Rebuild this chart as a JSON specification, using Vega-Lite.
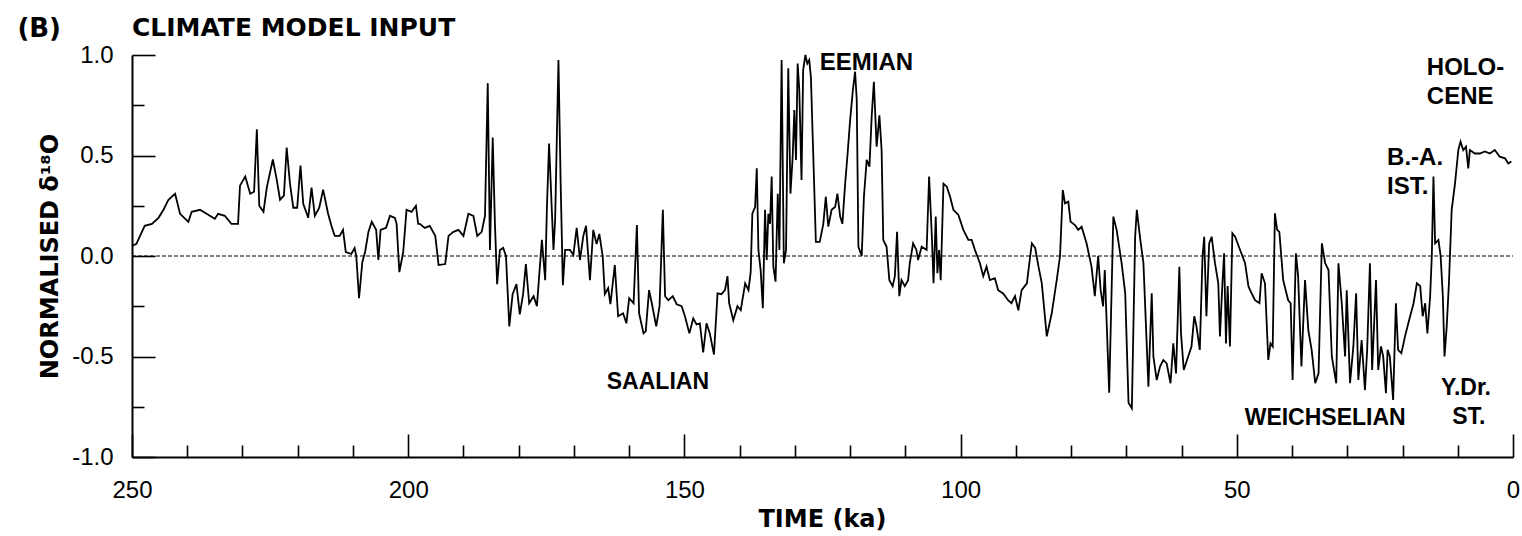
{
  "$schema": "https://vega.github.io/schema/vega-lite/v6.json",
  "width": 1381,
  "height": 402,
  "autosize": "none",
  "padding": {"left": 132, "top": 55, "right": 9, "bottom": 79},
  "background": "white",
  "config": {"view": {"stroke": null}},
  "title": {"text": "CLIMATE MODEL INPUT", "anchor": "start", "frame": "group", "font": "DejaVu Sans", "fontWeight": "bold", "fontSize": 25, "color": "black", "offset": -25},
  "datasets": {
    "series": [
      {"t":250.0,"v":0.05},{"t":249.2,"v":0.06},{"t":247.7,"v":0.15},{"t":246.4,"v":0.16},{"t":245.2,"v":0.19},{"t":244.3,"v":0.23},{"t":243.4,"v":0.28},{"t":242.2,"v":0.31},{"t":241.3,"v":0.21},{"t":239.8,"v":0.17},{"t":239.2,"v":0.22},{"t":237.7,"v":0.23},{"t":235.9,"v":0.20},{"t":235.0,"v":0.185},{"t":234.4,"v":0.21},{"t":233.2,"v":0.20},{"t":232.0,"v":0.16},{"t":230.8,"v":0.16},{"t":230.45,"v":0.35},{"t":229.5,"v":0.395},{"t":228.6,"v":0.31},{"t":227.9,"v":0.32},{"t":227.4,"v":0.63},{"t":226.96,"v":0.25},{"t":226.2,"v":0.22},{"t":225.6,"v":0.34},{"t":224.5,"v":0.48},{"t":223.8,"v":0.38},{"t":223.2,"v":0.28},{"t":222.5,"v":0.30},{"t":222.0,"v":0.54},{"t":221.4,"v":0.36},{"t":220.8,"v":0.24},{"t":220.1,"v":0.24},{"t":219.5,"v":0.45},{"t":219.0,"v":0.26},{"t":218.1,"v":0.19},{"t":217.5,"v":0.34},{"t":216.9,"v":0.20},{"t":216.1,"v":0.24},{"t":215.4,"v":0.33},{"t":214.5,"v":0.21},{"t":213.9,"v":0.15},{"t":213.3,"v":0.10},{"t":212.4,"v":0.10},{"t":211.8,"v":0.13},{"t":211.3,"v":0.02},{"t":210.3,"v":0.01},{"t":209.7,"v":0.04},{"t":209.4,"v":0.0},{"t":208.9,"v":-0.21},{"t":208.3,"v":-0.03},{"t":207.8,"v":0.02},{"t":207.2,"v":0.12},{"t":206.6,"v":0.17},{"t":205.8,"v":0.13},{"t":205.4,"v":-0.02},{"t":205.0,"v":0.13},{"t":204.0,"v":0.14},{"t":203.3,"v":0.20},{"t":202.4,"v":0.19},{"t":202.1,"v":0.16},{"t":201.6,"v":-0.08},{"t":200.9,"v":0.02},{"t":200.3,"v":0.23},{"t":199.4,"v":0.22},{"t":198.6,"v":0.25},{"t":198.2,"v":0.16},
      {"t":197.9,"v":0.16},{"t":197.0,"v":0.14},{"t":196.1,"v":0.15},{"t":195.1,"v":0.10},{"t":194.5,"v":-0.045},{"t":193.3,"v":-0.04},{"t":192.7,"v":0.10},{"t":191.8,"v":0.12},{"t":190.9,"v":0.13},{"t":190.0,"v":0.10},{"t":189.1,"v":0.21},{"t":188.2,"v":0.20},{"t":187.5,"v":0.10},{"t":186.7,"v":0.12},{"t":186.1,"v":0.20},{"t":185.6,"v":0.86},{"t":185.2,"v":0.03},{"t":184.7,"v":0.59},{"t":184.3,"v":0.16},{"t":183.9,"v":-0.14},{"t":183.4,"v":0.03},{"t":182.8,"v":0.04},{"t":182.3,"v":0.0},{"t":181.7,"v":-0.35},{"t":181.1,"v":-0.19},{"t":180.4,"v":-0.14},{"t":179.8,"v":-0.29},{"t":179.2,"v":-0.19},{"t":178.7,"v":-0.04},{"t":178.1,"v":-0.235},{"t":177.3,"v":-0.20},{"t":176.7,"v":-0.25},{"t":175.8,"v":0.08},{"t":175.2,"v":-0.12},{"t":174.9,"v":0.23},{"t":174.5,"v":0.56},{"t":173.7,"v":0.03},{"t":173.4,"v":0.18},{"t":172.8,"v":0.975},{"t":172.4,"v":0.36},{"t":172.0,"v":-0.145},{"t":171.6,"v":0.03},{"t":170.7,"v":0.03},{"t":170.1,"v":0.005},{"t":169.5,"v":0.14},{"t":168.9,"v":-0.02},{"t":168.3,"v":0.10},{"t":167.8,"v":0.15},{"t":167.1,"v":-0.12},{"t":166.5,"v":0.13},{"t":165.9,"v":0.06},{"t":165.4,"v":0.11},{"t":164.8,"v":0.0},{"t":164.4,"v":-0.19},{"t":163.8,"v":-0.16},{"t":163.4,"v":-0.24},{"t":162.6,"v":-0.045},{"t":162.0,"v":-0.30},{"t":161.1,"v":-0.285},{"t":160.5,"v":-0.335},{"t":160.0,"v":-0.21},{"t":159.2,"v":-0.235},{"t":158.6,"v":0.154},{"t":158.2,"v":-0.285},{"t":157.4,"v":-0.385},{"t":157.0,"v":-0.375},{"t":156.4,"v":-0.17},{"t":155.9,"v":-0.235},{"t":155.1,"v":-0.35},{"t":154.5,"v":-0.25},{"t":153.9,"v":0.23},{"t":153.5,"v":-0.20},{"t":152.9,"v":-0.22},{"t":152.1,"v":-0.20},{"t":151.4,"v":-0.24},{"t":150.5,"v":-0.25},{"t":149.9,"v":-0.30},{"t":149.1,"v":-0.385},{"t":148.4,"v":-0.31},{"t":147.8,"v":-0.34},
      {"t":147.2,"v":-0.335},{"t":146.6,"v":-0.48},{"t":146.0,"v":-0.335},{"t":145.4,"v":-0.385},{"t":144.65,"v":-0.49},{"t":144.0,"v":-0.186},{"t":143.3,"v":-0.19},{"t":142.65,"v":-0.17},{"t":142.2,"v":-0.10},{"t":141.9,"v":-0.235},{"t":141.15,"v":-0.32},{"t":140.4,"v":-0.25},{"t":139.8,"v":-0.27},{"t":139.0,"v":-0.136},{"t":138.4,"v":-0.17},{"t":138.0,"v":-0.08},{"t":137.7,"v":0.21},{"t":137.2,"v":0.245},{"t":136.9,"v":0.436},{"t":136.6,"v":0.03},{"t":136.2,"v":-0.07},{"t":135.8,"v":-0.26},{"t":135.4,"v":0.23},{"t":135.1,"v":-0.02},{"t":134.8,"v":0.21},{"t":134.5,"v":0.16},{"t":134.2,"v":0.395},{"t":133.9,"v":-0.053},{"t":133.5,"v":-0.128},{"t":133.1,"v":0.31},{"t":132.8,"v":0.03},{"t":132.4,"v":0.975},{"t":132.0,"v":-0.036},{"t":131.6,"v":0.03},{"t":131.2,"v":0.934},{"t":130.8,"v":0.31},{"t":130.4,"v":0.494},{"t":130.1,"v":0.726},{"t":129.8,"v":0.478},{"t":129.5,"v":0.958},{"t":129.2,"v":0.826},{"t":128.8,"v":0.378},{"t":128.5,"v":0.925},{"t":128.1,"v":1.0},{"t":127.75,"v":0.958},{"t":127.4,"v":0.975},{"t":127.1,"v":0.89},{"t":126.7,"v":0.527},{"t":126.2,"v":0.07},{"t":125.5,"v":0.07},{"t":124.85,"v":0.16},{"t":124.4,"v":0.295},{"t":123.95,"v":0.146},{"t":123.35,"v":0.23},{"t":122.7,"v":0.245},{"t":122.3,"v":0.31},{"t":121.8,"v":0.196},{"t":121.4,"v":0.16},{"t":120.9,"v":0.36},{"t":120.5,"v":0.494},{"t":120.0,"v":0.676},{"t":119.5,"v":0.826},{"t":119.1,"v":0.917},{"t":118.8,"v":0.776},{"t":118.5,"v":0.046},{"t":117.9,"v":0.0},{"t":117.5,"v":0.295},{"t":117.0,"v":0.478},{"t":116.5,"v":0.444},{"t":116.1,"v":0.693},{"t":115.7,"v":0.867},{"t":115.2,"v":0.544},{"t":114.7,"v":0.70},{"t":114.3,"v":0.527},{"t":114.0,"v":0.08},{"t":113.4,"v":0.046},{"t":112.9,"v":-0.12},{"t":112.3,"v":-0.15},{"t":111.9,"v":-0.10},{"t":111.5,"v":0.12},{"t":111.1,"v":-0.20},{"t":110.7,"v":-0.12},{"t":110.1,"v":-0.15},{"t":109.5,"v":-0.12},{"t":109.2,"v":-0.036},{"t":108.6,"v":0.063},{"t":108.0,"v":0.03},{"t":107.7,"v":-0.02},{"t":107.05,"v":0.046},{"t":106.15,"v":0.03},{"t":105.7,"v":0.395},{"t":105.2,"v":0.096},{"t":104.9,"v":-0.136},{"t":104.5,"v":0.196},{"t":104.2,"v":-0.086},{"t":103.9,"v":0.03},{"t":103.6,"v":-0.12},{"t":103.1,"v":0.36},{"t":102.5,"v":0.345},{"t":101.9,"v":0.295},{"t":101.3,"v":0.23},{"t":100.4,"v":0.204},{"t":99.5,"v":0.13},{"t":98.6,"v":0.08},{"t":98.0,"v":0.08},{"t":97.4,"v":0.03},
      {"t":96.5,"v":-0.036},{"t":95.9,"v":-0.10},{"t":95.3,"v":-0.053},{"t":94.7,"v":-0.12},{"t":93.8,"v":-0.11},{"t":93.2,"v":-0.17},{"t":92.3,"v":-0.186},{"t":91.4,"v":-0.22},{"t":90.8,"v":-0.235},{"t":90.15,"v":-0.20},{"t":89.55,"v":-0.27},{"t":88.95,"v":-0.17},{"t":88.0,"v":-0.136},{"t":87.4,"v":0.0},{"t":87.1,"v":0.063},{"t":86.5,"v":0.04},{"t":85.9,"v":-0.053},{"t":85.3,"v":-0.136},{"t":84.4,"v":-0.40},{"t":83.5,"v":-0.285},{"t":82.6,"v":-0.12},{"t":82.0,"v":0.0},{"t":81.5,"v":0.328},{"t":81.1,"v":0.262},{"t":80.5,"v":0.27},{"t":80.1,"v":0.171},{"t":79.3,"v":0.154},{"t":78.7,"v":0.13},{"t":78.1,"v":0.146},{"t":77.2,"v":0.063},{"t":76.3,"v":-0.053},{"t":75.7,"v":-0.20},{"t":75.1,"v":0.0},{"t":74.65,"v":-0.17},{"t":74.2,"v":-0.25},{"t":73.9,"v":-0.07},{"t":73.1,"v":-0.68},{"t":72.35,"v":0.196},{"t":71.75,"v":0.13},{"t":70.85,"v":-0.036},{"t":70.2,"v":-0.186},{"t":69.6,"v":-0.73},{"t":69.0,"v":-0.758},{"t":68.4,"v":0.096},{"t":68.1,"v":0.23},{"t":67.5,"v":0.088},{"t":66.9,"v":-0.036},{"t":66.0,"v":-0.65},{"t":65.4,"v":-0.186},{"t":65.1,"v":-0.50},{"t":64.5,"v":-0.617},{"t":63.9,"v":-0.55},{"t":63.3,"v":-0.517},{"t":62.7,"v":-0.534},{"t":62.0,"v":-0.633},{"t":61.5,"v":-0.435},{"t":61.0,"v":-0.584},{"t":60.4,"v":-0.053},{"t":60.1,"v":-0.385},{"t":59.6,"v":-0.567},{"t":58.8,"v":-0.50},{"t":58.2,"v":-0.45},{"t":57.7,"v":-0.30},{"t":57.3,"v":-0.35},{"t":56.7,"v":-0.467},{"t":56.2,"v":0.0},{"t":55.9,"v":0.096},{"t":55.5,"v":-0.30},{"t":55.0,"v":0.063},{"t":54.55,"v":0.096},{"t":53.95,"v":-0.036},{"t":53.35,"v":-0.136},{"t":53.05,"v":-0.40},{"t":52.6,"v":-0.136},{"t":52.3,"v":0.013},{"t":51.96,"v":-0.435},{"t":51.66,"v":-0.15},{"t":51.24,"v":-0.45},{"t":50.8,"v":0.113},{"t":50.3,"v":0.096},{"t":49.4,"v":0.03},{"t":48.5,"v":-0.036},{"t":47.9,"v":-0.15},
      {"t":47.6,"v":-0.17},{"t":46.7,"v":-0.22},{"t":45.9,"v":-0.235},{"t":45.5,"v":-0.086},{"t":44.9,"v":-0.136},{"t":44.3,"v":-0.517},{"t":43.9,"v":-0.435},{"t":43.5,"v":-0.45},{"t":43.1,"v":0.212},{"t":42.7,"v":0.13},{"t":42.3,"v":0.12},{"t":41.6,"v":-0.12},{"t":40.7,"v":-0.22},{"t":40.25,"v":-0.235},{"t":39.9,"v":-0.617},{"t":39.3,"v":0.013},{"t":38.9,"v":-0.10},{"t":38.3,"v":-0.55},{"t":37.65,"v":-0.12},{"t":37.05,"v":-0.37},{"t":36.45,"v":-0.467},{"t":35.8,"v":-0.633},{"t":35.2,"v":-0.584},{"t":34.6,"v":0.063},{"t":34.0,"v":-0.036},{"t":33.4,"v":-0.07},{"t":32.8,"v":-0.50},{"t":32.0,"v":-0.633},{"t":31.6,"v":-0.036},{"t":31.0,"v":-0.235},{"t":30.4,"v":-0.50},{"t":30.1,"v":-0.17},{"t":29.5,"v":-0.633},{"t":28.9,"v":-0.45},{"t":28.4,"v":-0.186},{"t":28.0,"v":-0.617},{"t":27.4,"v":-0.418},{"t":26.8,"v":-0.667},{"t":26.4,"v":-0.467},{"t":25.9,"v":-0.036},{"t":25.5,"v":-0.567},{"t":24.8,"v":-0.12},{"t":24.4,"v":-0.567},{"t":23.9,"v":-0.45},{"t":23.5,"v":-0.50},{"t":23.0,"v":-0.683},{"t":22.7,"v":-0.467},{"t":22.3,"v":-0.50},{"t":21.7,"v":-0.716},{"t":21.2,"v":-0.235},{"t":20.8,"v":-0.467},{"t":20.2,"v":-0.484},{"t":19.55,"v":-0.40},{"t":18.8,"v":-0.318},{"t":18.0,"v":-0.235},{"t":17.4,"v":-0.136},{"t":16.8,"v":-0.15},{"t":16.35,"v":-0.30},{"t":15.9,"v":-0.235},{"t":15.5,"v":-0.385},{"t":15.0,"v":-0.20},{"t":14.7,"v":0.0},{"t":14.4,"v":0.395},{"t":14.1,"v":0.063},{"t":13.5,"v":0.08},{"t":13.1,"v":0.0},{"t":12.7,"v":-0.20},{"t":12.4,"v":-0.50},{"t":12.0,"v":-0.35},{"t":11.6,"v":-0.136},{"t":11.1,"v":0.23},{"t":10.5,"v":0.36},{"t":9.9,"v":0.527},{"t":9.5,"v":0.569},{"t":9.0,"v":0.527},{"t":8.5,"v":0.544},{"t":8.1,"v":0.436},{"t":7.8,"v":0.527},{"t":6.9,"v":0.51},{"t":6.0,"v":0.51},{"t":5.1,"v":0.52},{"t":4.2,"v":0.51},{"t":3.3,"v":0.527},{"t":2.4,"v":0.494},{"t":1.45,"v":0.486},{"t":0.85,"v":0.46},{"t":0.3,"v":0.47}
    ],
    "zero": [{"t0": 250, "t1": 0, "z": 0}],
    "labelsLeft": [
      {"t": 125.5, "v": 0.96, "label": "EEMIAN"},
      {"t": 15.6, "v": 0.935, "label": "HOLO-"},
      {"t": 15.6, "v": 0.79, "label": "CENE"},
      {"t": 22.8, "v": 0.488, "label": "B.-A."},
      {"t": 22.8, "v": 0.343, "label": "IST."}
    ],
    "labelsCenter": [
      {"t": 154.8, "v": -0.627, "label": "SAALIAN"},
      {"t": 34.0, "v": -0.806, "label": "WEICHSELIAN"},
      {"t": 8.5, "v": -0.655, "label": "Y.Dr."},
      {"t": 8.0, "v": -0.8, "label": "ST."}
    ],
    "panel": [{"t": 266.8, "v": 1.129, "label": "(B)"}]
  },
  "resolve": {"axis": {"x": "independent", "y": "independent"}},
  "layer": [
    {
      "data": {"name": "series"},
      "mark": {"type": "line", "color": "black", "strokeWidth": 1.8, "interpolate": "linear"},
      "encoding": {
        "x": {"field": "t", "type": "quantitative",
          "scale": {"domain": [0, 250], "reverse": true, "nice": false, "zero": false},
          "axis": {"orient": "bottom", "values": [250, 200, 150, 100, 50, 0], "format": "d", "grid": false,
            "tickSize": -23, "tickWidth": 1.6, "tickColor": "black", "domainColor": "black", "domainWidth": 2,
            "labelFont": "Liberation Sans", "labelFontSize": 24, "labelColor": "black", "labelPadding": 63, "labelBaseline": "alphabetic", "labelFlush": false, "labelOverlap": false,
            "title": "TIME (ka)", "titleFont": "DejaVu Sans", "titleFontWeight": "bold", "titleFontSize": 24, "titleColor": "black",
            "titleX": 690, "titleY": 69, "titleAlign": "center", "titleBaseline": "alphabetic"}},
        "y": {"field": "v", "type": "quantitative",
          "scale": {"domain": [-1, 1], "nice": false, "zero": false},
          "axis": {"orient": "left", "values": [-1, -0.5, 0, 0.5, 1], "grid": false,
            "labelExpr": "datum.value < 0 ? '-' + format(-datum.value, '.1f') : format(datum.value, '.1f')",
            "tickSize": -23, "tickWidth": 1.6, "tickColor": "black", "domainColor": "black", "domainWidth": 2,
            "labelFont": "Liberation Sans", "labelFontSize": 24, "labelColor": "black", "labelPadding": 42, "labelFlush": false, "labelOverlap": false,
            "title": "NORMALISED δ¹⁸O", "titleFont": "DejaVu Sans", "titleFontWeight": "bold", "titleFontSize": 24, "titleColor": "black",
            "titleX": -75, "titleY": 201, "titleAngle": -90, "titleAlign": "center", "titleBaseline": "alphabetic"}}
      }
    },
    {
      "data": {"name": "zero"},
      "mark": {"type": "rule", "color": "black", "strokeWidth": 1.2, "strokeDash": [4, 2]},
      "encoding": {
        "x": {"field": "t0", "type": "quantitative",
          "scale": {"domain": [0, 250], "reverse": true, "nice": false, "zero": false},
          "axis": {"orient": "bottom", "values": [240, 230, 220, 210, 190, 180, 170, 160, 140, 130, 120, 110, 90, 80, 70, 60, 40, 30, 20, 10],
            "grid": false, "labels": false, "domain": false, "title": null, "tickSize": -12, "tickWidth": 1.6, "tickColor": "black"}},
        "x2": {"field": "t1"},
        "y": {"field": "z", "type": "quantitative",
          "scale": {"domain": [-1, 1], "nice": false, "zero": false},
          "axis": {"orient": "left", "values": [-0.75, -0.25, 0.25, 0.75],
            "grid": false, "labels": false, "domain": false, "title": null, "tickSize": -12, "tickWidth": 1.6, "tickColor": "black"}}
      }
    },
    {
      "data": {"name": "labelsLeft"},
      "mark": {"type": "text", "align": "left", "baseline": "middle", "font": "Liberation Sans", "fontWeight": "bold", "fontSize": 24, "color": "black"},
      "encoding": {
        "x": {"field": "t", "type": "quantitative", "axis": null},
        "y": {"field": "v", "type": "quantitative", "axis": null},
        "text": {"field": "label"}
      }
    },
    {
      "data": {"name": "labelsCenter"},
      "mark": {"type": "text", "align": "center", "baseline": "middle", "font": "Liberation Sans", "fontWeight": "bold", "fontSize": 23, "color": "black"},
      "encoding": {
        "x": {"field": "t", "type": "quantitative", "axis": null},
        "y": {"field": "v", "type": "quantitative", "axis": null},
        "text": {"field": "label"}
      }
    },
    {
      "data": {"name": "panel"},
      "mark": {"type": "text", "align": "center", "baseline": "middle", "font": "DejaVu Sans", "fontWeight": "bold", "fontSize": 26, "color": "black"},
      "encoding": {
        "x": {"field": "t", "type": "quantitative", "axis": null},
        "y": {"field": "v", "type": "quantitative", "axis": null},
        "text": {"field": "label"}
      }
    }
  ]
}
